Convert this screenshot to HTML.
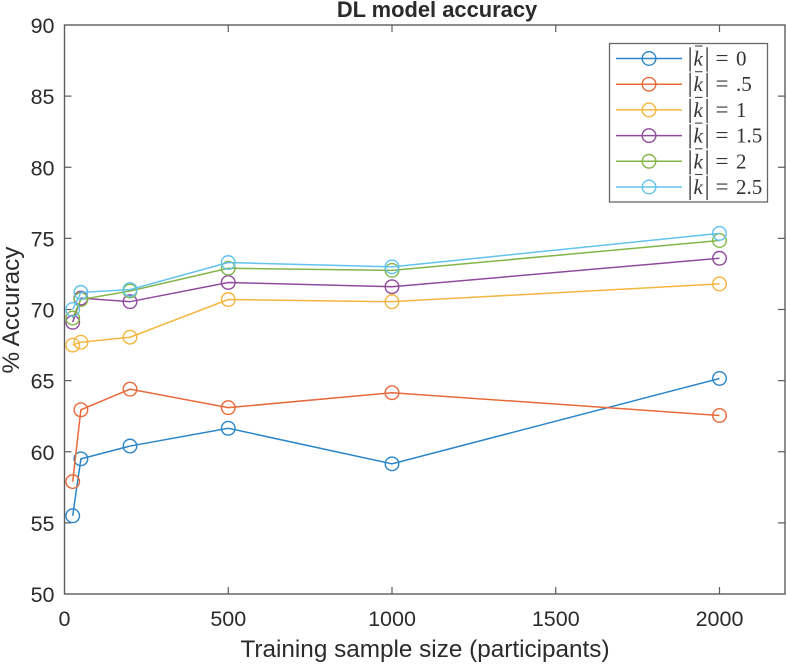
<!DOCTYPE html>
<html>
<head>
<meta charset="utf-8">
<title>DL model accuracy</title>
<style>
html,body{margin:0;padding:0;background:#fff;width:786px;height:664px;overflow:hidden}
svg{display:block;filter:blur(0.35px)}
text{font-family:"Liberation Sans",sans-serif;fill:#2b2b2b}
.lg{font-family:"Liberation Serif",serif;font-size:21px;fill:#333}
</style>
</head>
<body>
<svg id="chart" width="786" height="664" viewBox="0 0 786 664" xmlns="http://www.w3.org/2000/svg"></svg>
<script>
const sampleSizes = [25, 50, 200, 500, 1000, 2000];
const seriesLabels = ["0", ".5", "1", "1.5", "2", "2.5"];
const seriesK0 = [55.5, 59.5, 60.4, 61.65, 59.15, 65.15];
const seriesK05 = [57.9, 62.95, 64.4, 63.1, 64.15, 62.55];
const seriesK1 = [67.5, 67.7, 68.05, 70.7, 70.55, 71.8];
const seriesK15 = [69.1, 70.8, 70.55, 71.9, 71.6, 73.6];
const seriesK2 = [69.4, 70.7, 71.3, 72.9, 72.75, 74.85];
const seriesK25 = [70.0, 71.2, 71.4, 73.3, 73.0, 75.35];
const xTicks = [0, 500, 1000, 1500, 2000];
const yTicks = [50, 55, 60, 65, 70, 75, 80, 85, 90];
const xDomain = [0, 2200];
const yDomain = [50, 90];

const allSeries = [seriesK0, seriesK05, seriesK1, seriesK15, seriesK2, seriesK25];
const colors = ["#2a86c8", "#e8693a", "#f4b63f", "#8f4a9e", "#84b548", "#62c3ee"];
const plot = {l: 64.5, r: 785, t: 25, b: 594};
const NS = "http://www.w3.org/2000/svg";
const svg = document.getElementById("chart");

function xScale(v) { return plot.l + (v - xDomain[0]) / (xDomain[1] - xDomain[0]) * (plot.r - plot.l); }
function yScale(v) { return plot.b - (v - yDomain[0]) / (yDomain[1] - yDomain[0]) * (plot.b - plot.t); }
function make(tag, attrs, parent) {
  const el = document.createElementNS(NS, tag);
  for (const k in attrs) el.setAttribute(k, attrs[k]);
  (parent || svg).appendChild(el);
  return el;
}
const axisColor = "#5c5c5c";

// axes box
const box = make("rect", {x: plot.l, y: plot.t, width: plot.r - plot.l, height: plot.b - plot.t, fill: "none", stroke: axisColor, "stroke-width": 1.4});



// x ticks
xTicks.forEach(function (t) {
  const x = xScale(t);
  if (t !== 0) {
    const a = make("line", {x1: x, x2: x, y1: plot.b, y2: plot.b - 7, stroke: axisColor, "stroke-width": 1.2});
    
    
    const b = make("line", {x1: x, x2: x, y1: plot.t, y2: plot.t + 7, stroke: axisColor, "stroke-width": 1.2});
    
    
  }
  const l = make("text", {x: x, y: 626, "text-anchor": "middle", "font-size": 21.5});
  
  
  l.textContent = t;
});

// y ticks
yTicks.forEach(function (t) {
  const y = yScale(t);
  if (t !== 50 && t !== 90) {
    const a = make("line", {x1: plot.l, x2: plot.l + 7, y1: y, y2: y, stroke: axisColor, "stroke-width": 1.2});
    
    
    const b = make("line", {x1: plot.r, x2: plot.r - 7, y1: y, y2: y, stroke: axisColor, "stroke-width": 1.2});
    
    
  }
  const l = make("text", {x: 54.5, y: y + 8, "text-anchor": "end", "font-size": 21.5});
  
  
  l.textContent = t;
});

// series
allSeries.forEach(function (vals, i) {
  const g = make("g", {});
  
  
  const pts = vals.map(function (v, j) { return xScale(sampleSizes[j]) + "," + yScale(v); }).join(" ");
  const line = make("polyline", {points: pts, fill: "none", stroke: colors[i], "stroke-width": 1.5}, g);
  
  
  vals.forEach(function (v, j) {
    const c = make("circle", {cx: xScale(sampleSizes[j]), cy: yScale(v), r: 6.8, fill: "none", stroke: colors[i], "stroke-width": 1.4}, g);
    
    
  });
});

// legend
const legend = make("g", {});


const legendBox = make("rect", {x: 609.5, y: 43.5, width: 158, height: 158.5, fill: "#fff", stroke: "#666", "stroke-width": 1.3}, legend);


seriesLabels.forEach(function (lab, i) {
  const y = 58.5 + i * 25.7;
  const g = make("g", {}, legend);
  
  
  const ln = make("line", {x1: 616, x2: 682, y1: y, y2: y, stroke: colors[i], "stroke-width": 1.5}, g);
  
  
  const c = make("circle", {cx: 649, cy: y, r: 6.8, fill: "none", stroke: colors[i], "stroke-width": 1.4}, g);
  
  
  const bar = make("line", {x1: 695, x2: 702.5, y1: y - 12.5, y2: y - 12.5, stroke: "#444", "stroke-width": 1.1}, g);
  
  
  const pipe1 = make("text", {x: 687.5, y: y + 7.5, class: "lg", style: "font-size:26px"}, g);
  
  
  pipe1.textContent = "|";
  const k = make("text", {x: 693.5, y: y + 7, class: "lg", "font-style": "italic"}, g);
  
  
  k.textContent = "k";
  const pipe2 = make("text", {x: 704.5, y: y + 7.5, class: "lg", style: "font-size:26px"}, g);
  
  
  pipe2.textContent = "|";
  const eq = make("text", {x: 715.5, y: y + 7, class: "lg", style: "font-size:23px"}, g);
  
  
  eq.textContent = "=";
  const t = make("text", {x: 736, y: y + 7, class: "lg"}, g);
  
  
  t.textContent = lab;
});

// titles
const title = make("text", {x: 437, y: 17, "text-anchor": "middle", "font-size": 21.9, "font-weight": "bold", fill: "#111"});


title.textContent = "DL model accuracy";
const xTitle = make("text", {x: 425, y: 657, "text-anchor": "middle", "font-size": 24.3});


xTitle.textContent = "Training sample size (participants)";
const yTitle = make("text", {x: 0, y: 0, "text-anchor": "middle", "font-size": 24.3, transform: "translate(19 310) rotate(-90)"});


yTitle.textContent = "% Accuracy";
</script>
</body>
</html>
